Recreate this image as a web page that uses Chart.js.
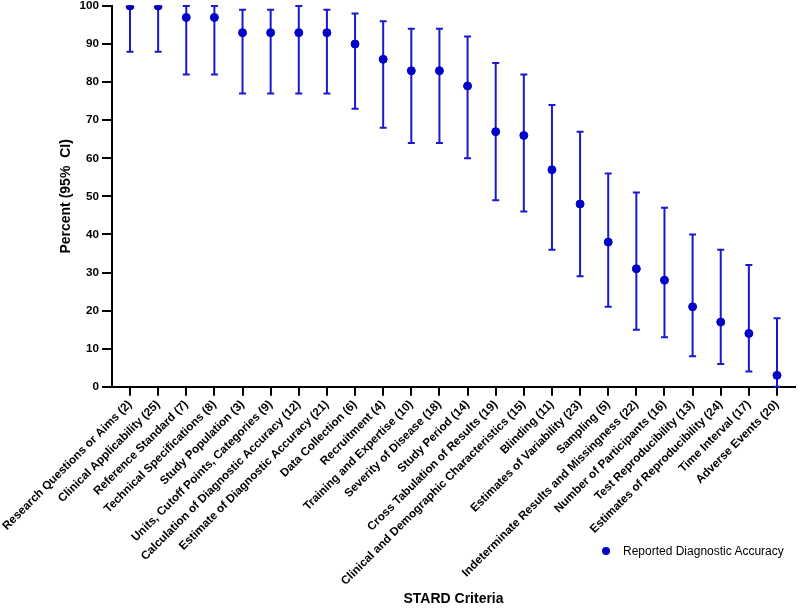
<!DOCTYPE html>
<html>
<head>
<meta charset="utf-8">
<script src="https://cdn.jsdelivr.net/npm/chart.js@4/dist/chart.umd.min.js"></script>
<style>
  body { margin: 0; background: #fff; }
  #wrap { position: relative; width: 800px; height: 608px; }
  #legend {
    position: absolute; left: 602px; top: 544px;
    font: 12px "Liberation Sans", Arial, sans-serif; color: #000;
    display: flex; align-items: center;
  }
  #legend .dot {
    width: 8px; height: 8px; border-radius: 50%; background: #0000c8;
    margin-right: 13px;
  }
</style>
</head>
<body>
<div id="wrap">
  <canvas id="myChart" width="800" height="608"></canvas>
  <div id="legend"><span class="dot"></span><span>Reported Diagnostic Accuracy</span></div>
</div>
<script>
const criteria = [
  "Research Questions or Aims (2)", "Clinical Applicability (25)", "Reference Standard (7)",
  "Technical Specifications (8)", "Study Population (3)", "Units, Cutoff Points, Categories (9)",
  "Calculation of Diagnostic Accuracy (12)", "Estimate of Diagnostic Accuracy (21)",
  "Data Collection (6)", "Recruitment (4)", "Training and Expertise (10)", "Severity of Disease (18)",
  "Study Period (14)", "Cross Tabulation of Results (19)",
  "Clinical and Demographic Characteristics (15)", "Blinding (11)", "Estimates of Variability (23)",
  "Sampling (5)", "Indeterminate Results and Missingness (22)", "Number of Participants (16)",
  "Test Reproducibility (13)", "Estimates of Reproducibility (24)", "Time Interval (17)",
  "Adverse Events (20)"
];
const percent = [100, 100, 97, 97, 93, 93, 93, 93, 90, 86, 83, 83, 79, 67, 66, 57, 48, 38, 31, 28, 21, 17, 14, 3];
const ciLow  = [88, 88, 82, 82, 77, 77, 77, 77, 73, 68, 64, 64, 60, 49, 46, 36, 29, 21, 15, 13, 8, 6, 4, 0];
const ciHigh = [100, 100, 100, 100, 99, 99, 100, 99, 98, 96, 94, 94, 92, 85, 82, 74, 67, 56, 51, 47, 40, 36, 32, 18];
const yTicks = [0, 10, 20, 30, 40, 50, 60, 70, 80, 90, 100];

const errorBars = {
  id: "errorBars",
  beforeDatasetsDraw(chart) {
    const ctx = chart.ctx;
    const x = chart.scales.x;
    const y = chart.scales.y;
    ctx.save();
    ctx.strokeStyle = "#1a1acc";
    ctx.lineWidth = 2;
    for (let i = 0; i < criteria.length; i++) {
      const px = x.getPixelForValue(i);
      const top = y.getPixelForValue(ciHigh[i]);
      const bot = y.getPixelForValue(ciLow[i]);
      ctx.beginPath();
      ctx.moveTo(px, top);
      ctx.lineTo(px, bot);
      ctx.moveTo(px - 3.5, top);
      ctx.lineTo(px + 3.5, top);
      ctx.moveTo(px - 3.5, bot);
      ctx.lineTo(px + 3.5, bot);
      ctx.stroke();
    }
    ctx.restore();
  }
};

Chart.defaults.font.family = '"Liberation Sans", Arial, sans-serif';
Chart.defaults.color = "#000";

new Chart(document.getElementById("myChart"), {
  type: "line",
  data: {
    datasets: [{
      label: "Reported Diagnostic Accuracy",
      data: percent.map((v, i) => ({ x: i, y: v })),
      showLine: false,
      pointRadius: 4,
      pointHoverRadius: 4,
      pointBackgroundColor: "#0000c8",
      pointBorderColor: "#0000c8",
    }],
  },
  options: {
    responsive: false,
    animation: false,
    layout: { padding: { top: 6, right: 0, left: 0, bottom: 0 } },
    plugins: { legend: { display: false }, tooltip: { enabled: false } },
    scales: {
      x: {
        type: "linear",
        min: -0.64, max: 23.64,
        afterBuildTicks(axis) { axis.ticks = criteria.map((c, i) => ({ value: i })); },
        afterFit(axis) { axis.height -= 3; axis.paddingRight = 0; axis.paddingLeft = 0; },
        grid: { drawOnChartArea: false, drawTicks: true, tickLength: 9, color: "#000", lineWidth: 2 },
        border: { color: "#000", width: 2 },
        ticks: {
          autoSkip: false, minRotation: 45, maxRotation: 45, padding: 2,
          font: { size: 11.7, weight: "bold" },
          callback: (v) => criteria[v],
        },
        title: { display: true, text: "STARD Criteria", font: { size: 14, weight: "bold" }, padding: { top: 4, bottom: 0 } },
      },
      y: {
        min: 0, max: 100,
        afterBuildTicks(axis) { axis.ticks = yTicks.map(v => ({ value: v })); },
        afterFit(axis) { axis.paddingTop = 0; axis.width = 112; },
        grid: { drawOnChartArea: false, drawTicks: true, tickLength: 10, color: "#000", lineWidth: 2 },
        border: { color: "#000", width: 2 },
        ticks: { padding: 3, font: { size: 11.7, weight: "bold" } },
        title: { display: true, text: "Percent (95%  CI)", font: { size: 14, weight: "bold" }, padding: { top: 58, bottom: 0 } },
      },
    },
  },
  plugins: [errorBars],
});
</script>
</body>
</html>
